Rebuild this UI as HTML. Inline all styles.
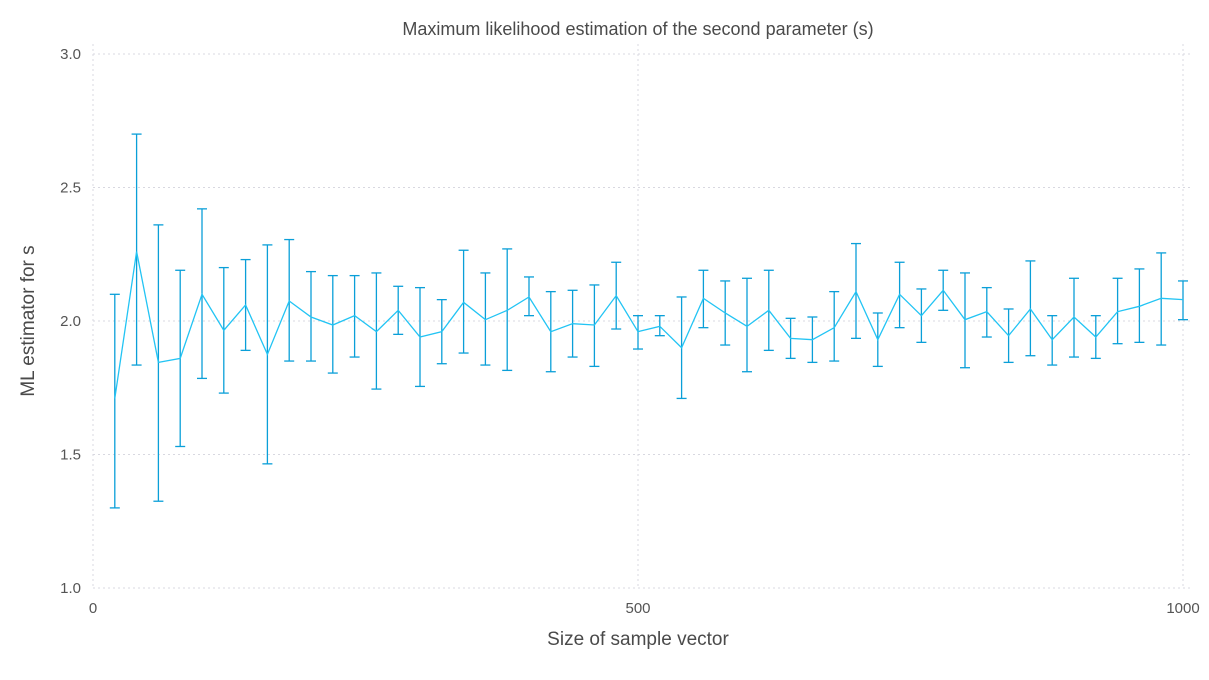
<!DOCTYPE html>
<html><head><meta charset="utf-8"><style>
html,body{margin:0;padding:0;background:#fff;}
svg{display:block;font-family:"Liberation Sans",sans-serif;}
</style></head><body>
<svg id="chart" width="1209" height="680">
<text x="638" y="35" text-anchor="middle" font-size="18" fill="#4a4a4a">Maximum likelihood estimation of the second parameter (s)</text>
<text x="638" y="645" text-anchor="middle" font-size="19" fill="#4a4a4a">Size of sample vector</text>
<text transform="translate(34,321) rotate(-90)" text-anchor="middle" font-size="19" fill="#4a4a4a">ML estimator for s</text>
<g id="grid"></g>
<g id="ticks"></g>
<g id="marks"></g>
</svg>
<script>
const sizes=[20,40,60,80,100,120,140,160,180,200,220,240,260,280,300,320,340,360,380,400,420,440,460,480,500,520,540,560,580,600,620,640,660,680,700,720,740,760,780,800,820,840,860,880,900,920,940,960,980,1000];
const estimates=[1.71,2.26,1.845,1.86,2.10,1.965,2.06,1.875,2.075,2.015,1.985,2.02,1.96,2.04,1.94,1.96,2.07,2.005,2.04,2.09,1.96,1.99,1.985,2.095,1.96,1.98,1.90,2.085,2.03,1.98,2.04,1.935,1.93,1.975,2.11,1.93,2.10,2.02,2.115,2.005,2.035,1.945,2.045,1.93,2.015,1.94,2.035,2.055,2.085,2.08];
const lows=[1.30,1.835,1.325,1.53,1.785,1.73,1.89,1.465,1.85,1.85,1.805,1.865,1.745,1.95,1.755,1.84,1.88,1.835,1.815,2.02,1.81,1.865,1.83,1.97,1.895,1.945,1.71,1.975,1.91,1.81,1.89,1.86,1.845,1.85,1.935,1.83,1.975,1.92,2.04,1.825,1.94,1.845,1.87,1.835,1.865,1.86,1.915,1.92,1.91,2.005];
const highs=[2.10,2.70,2.36,2.19,2.42,2.20,2.23,2.285,2.305,2.185,2.17,2.17,2.18,2.13,2.125,2.08,2.265,2.18,2.27,2.165,2.11,2.115,2.135,2.22,2.02,2.02,2.09,2.19,2.15,2.16,2.19,2.01,2.015,2.11,2.29,2.03,2.22,2.12,2.19,2.18,2.125,2.045,2.225,2.02,2.16,2.02,2.16,2.195,2.255,2.15];
const xTicks=[0,500,1000];
const yTicks=[1.0,1.5,2.0,2.5,3.0];

const NS="http://www.w3.org/2000/svg";
const X0=93,X1=1183,Y0=588,Y1=54;
const xs=v=>X0+(v-0)/1000*(X1-X0);
const ys=v=>Y0-(v-1)/2*(Y0-Y1);
function mk(tag,attrs,parent){const e=document.createElementNS(NS,tag);for(const k in attrs)e.setAttribute(k,attrs[k]);parent.appendChild(e);return e;}
const grid=document.getElementById('grid'),ticks=document.getElementById('ticks'),marks=document.getElementById('marks');
yTicks.forEach(t=>{
  const l=mk('line',{x1:X0,x2:X1+10,y1:ys(t),y2:ys(t),stroke:'#d8d8e0','stroke-width':1,'stroke-dasharray':'2,3'},grid);
  
  
  const tx=mk('text',{x:X0-12,y:ys(t)+5,'text-anchor':'end','font-size':15,fill:'#555'},ticks);
  tx.textContent=t.toFixed(1);
  
  
});
xTicks.forEach(t=>{
  const l=mk('line',{x1:xs(t),x2:xs(t),y1:Y1-10,y2:Y0,stroke:'#d8d8e0','stroke-width':1,'stroke-dasharray':'2,3'},grid);
  
  
  const tx=mk('text',{x:xs(t),y:Y0+25,'text-anchor':'middle','font-size':15,fill:'#555'},ticks);
  tx.textContent=String(t);
  
  
});
sizes.forEach((s,i)=>{
  const x=xs(s);
  const g=mk('g',{stroke:'#0a9fd8','stroke-width':1.3},marks);
  
  
  mk('line',{x1:x,x2:x,y1:ys(lows[i]),y2:ys(highs[i])},g);
  mk('line',{x1:x-5,x2:x+5,y1:ys(lows[i]),y2:ys(lows[i])},g);
  mk('line',{x1:x-5,x2:x+5,y1:ys(highs[i]),y2:ys(highs[i])},g);
});
const pl=mk('polyline',{points:sizes.map((s,i)=>xs(s)+','+ys(estimates[i])).join(' '),fill:'none',stroke:'#22c4f4','stroke-width':1.3},marks);


</script>
</body></html>
